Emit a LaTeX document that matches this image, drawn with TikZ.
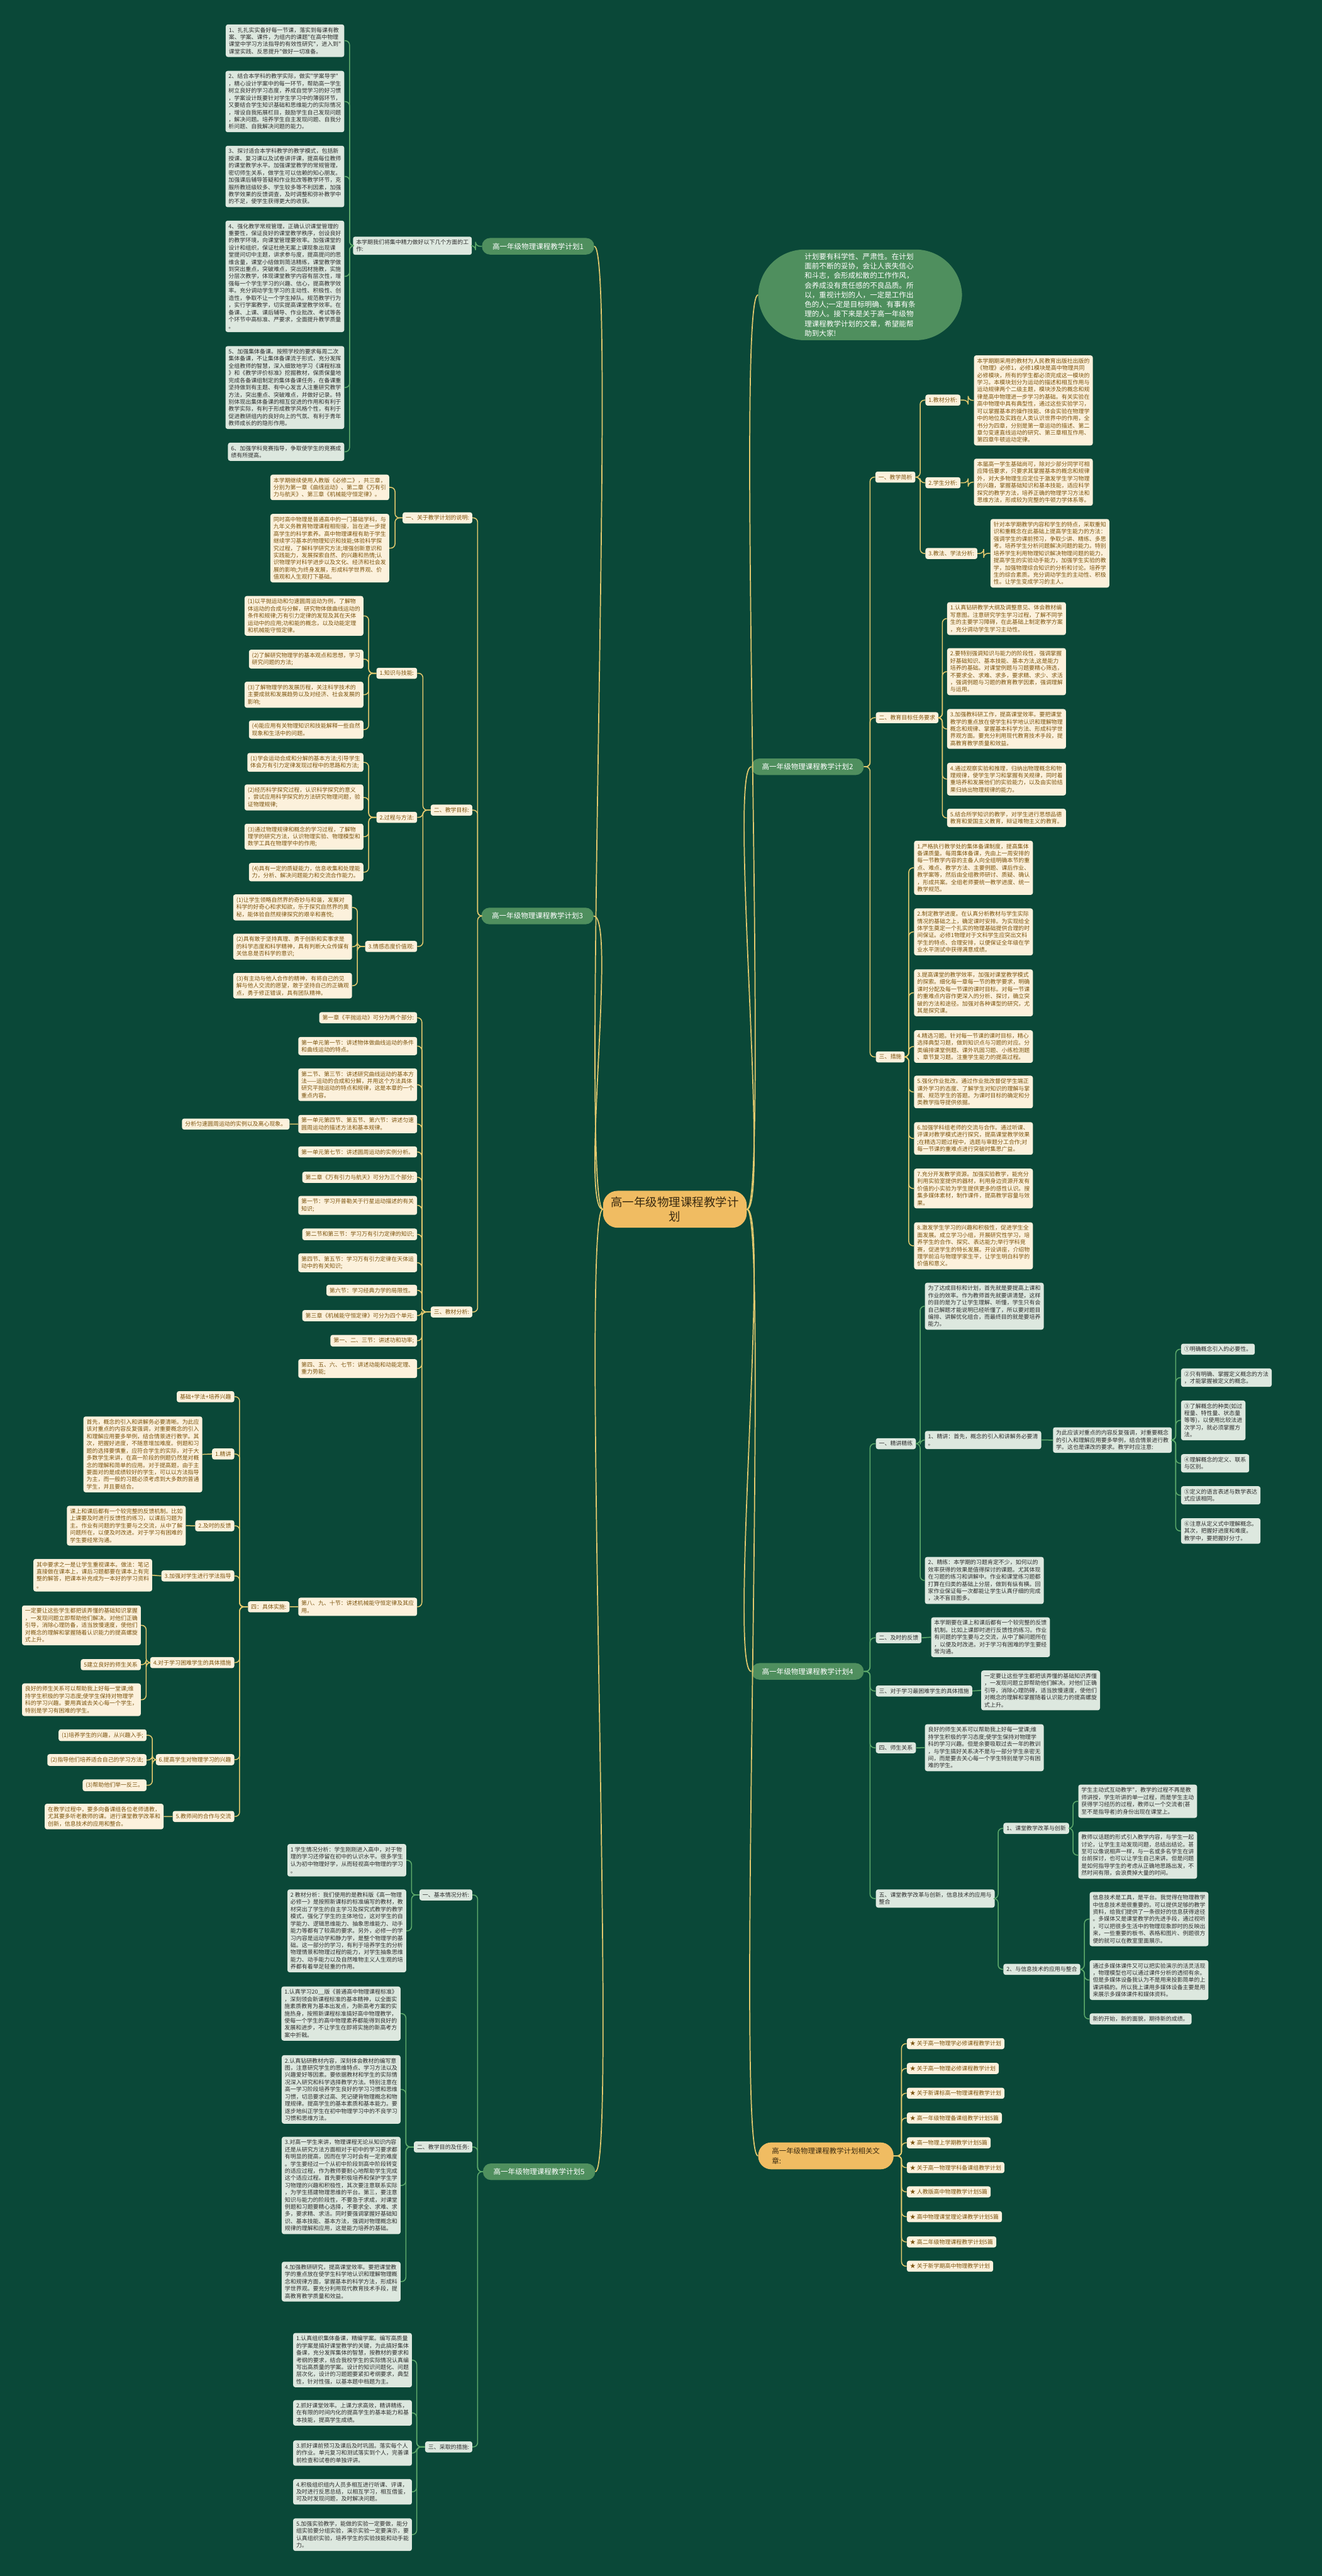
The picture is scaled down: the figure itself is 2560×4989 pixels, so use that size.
\documentclass[tikz,border=0pt]{standalone}
\usepackage{fontspec}
\usetikzlibrary{calc}
\newfontfamily\cjk{Noto Sans CJK SC}
\definecolor{colBg}{HTML}{0A4838}
\definecolor{colPill}{HTML}{4F8F5E}
\definecolor{colOr}{HTML}{F0BC62}
\definecolor{colOrTxt}{HTML}{3A2A10}
\definecolor{colBoxG}{HTML}{DDE8DF}
\definecolor{colTxtG}{HTML}{2E2E2E}
\definecolor{colBoxC}{HTML}{FCF1DC}
\definecolor{colTxtC}{HTML}{7D550F}
\definecolor{colLnG}{HTML}{5DAA6B}
\definecolor{colLnY}{HTML}{E3C96E}
\tikzset{
 gbox/.style={fill=colBoxG,text=colTxtG,rounded corners=3pt,inner xsep=4.3pt,inner ysep=4pt,align=left,font=\cjk\fontsize{7.75}{9.89}\selectfont},
 cbox/.style={gbox,fill=colBoxC,text=colTxtC},
 pillbox/.style={fill=colPill,text=white,rounded corners=11pt,inner xsep=14.5pt,inner ysep=0pt,minimum height=22.8pt,font=\cjk\fontsize{10}{13}\selectfont},
 lnG/.style={draw=colLnG,line width=1.3pt,rounded corners=6pt},
 lnY/.style={draw=colLnY,line width=1.3pt,rounded corners=6pt},
 lnTop/.style={draw=colLnY,line width=1.5pt},
}
\newcommand\lk[4][lnG]{\draw[#1] (#2.west) -- (#3 |- #2.west) |- (#4.east);}
\newcommand\rk[4][lnG]{\draw[#1] (#2.east) -- (#3 |- #2.east) |- (#4.west);}
\begin{document}
\begin{tikzpicture}[x=0.025cm,y=-0.025cm]
\fill[colBg] (0,0) rectangle (2560,4989);
\useasboundingbox (0,0) rectangle (2560,4989);

% ---------- centre ----------
\node[fill=colOr,text=colOrTxt,rounded corners=20pt,inner xsep=11pt,inner ysep=8pt,align=center,font=\cjk\fontsize{16}{20}\selectfont] (C) at (1307,2342) {高一年级物理课程教学计\\划};

% ---------- intro ----------
\node[fill=colPill,text=white,rounded corners=64pt,inner xsep=64pt,inner ysep=5pt,align=left,anchor=north west,font=\cjk\fontsize{10}{13.2}\selectfont] (intro) at (1468,483) {计划要有科学性、严肃性。在计划\\面前不断的妥协，会让人丧失信心\\和斗志，会形成松散的工作作风，\\会养成没有责任感的不良品质。所\\以，重视计划的人，一定是工作出\\色的人;一定是目标明确、有事有条\\理的人。接下来是关于高一年级物\\理课程教学计划的文章，希望能帮\\助到大家!};

% ================= Branch 1 =================
\node[pillbox,anchor=east] (B1) at (1151,477) {高一年级物理课程教学计划1};
\node[gbox,anchor=north east] (L1) at (914,458) {本学期我们将集中精力做好以下几个方面的工\\作:};
\coordinate (tB1) at (921,0);
\coordinate (tL1) at (677,0);
\node[gbox,anchor=north east] (b11) at (667,47) {1、扎扎实实备好每一节课，落实到每课有教\\案、学案、课件，为组内的课题"在高中物理\\课堂中学习方法指导的有效性研究"，进入到"\\课堂实践、反思提升"做好一切准备。};
\node[gbox,anchor=north east] (b12) at (667,137) {2、结合本学科的教学实际，做实"学案导学"\\，精心设计学案中的每一环节，帮助高一学生\\树立良好的学习态度，养成自觉学习的好习惯\\，学案设计既要针对学生学习中的薄弱环节，\\又要结合学生知识基础和思维能力的实际情况\\，增设自我拓展栏目，鼓励学生自己发现问题\\，解决问题。培养学生自主发现问题、自我分\\析问题、自我解决问题的能力。};
\node[gbox,anchor=north east] (b13) at (667,282) {3、探讨适合本学科教学的教学模式，包括新\\授课、复习课以及试卷讲评课，提高每位教师\\的课堂教学水平。加强课堂教学的常规管理，\\密切师生关系，做学生可以信赖的知心朋友。\\加强课后辅导答疑和作业批改等教学环节，克\\服所教班级较多、学生较多等不利因素，加强\\教学效果的反馈调查，及时调整和弥补教学中\\的不足，使学生获得更大的收获。};
\node[gbox,anchor=north east] (b14) at (667,427) {4、强化教学常规管理，正确认识课堂管理的\\重要性，保证良好的课堂教学秩序，创设良好\\的教学环境，向课堂管理要效率。加强课堂的\\设计和组织，保证杜绝无案上课现象出现课\\堂提问切中主题，讲求参与度，提高提问的思\\维含量，课堂小结做到简洁精练，课堂教学做\\到突出重点，突破难点，突出因材施教，实施\\分层次教学，体现课堂教学内容有层次性，增\\强每一个学生学习的兴趣、信心，提高教学效\\率。充分调动学生学习的主动性、积极性、创\\造性，争取不让一个学生掉队。规范教学行为\\，实行学案教学，切实提高课堂教学效率。在\\备课、上课、课后辅导、作业批改、考试等各\\个环节中高标准、严要求，全面提升教学质量\\。};
\node[gbox,anchor=north east] (b15) at (667,670) {5、加强集体备课。按照学校的要求每周二次\\集体备课，不让集体备课流于形式，充分发挥\\全组教师的智慧，深入细致地学习《课程标准\\》和《教学评价标准》挖掘教材，保质保量地\\完成各备课组制定的集体备课任务，在备课重\\坚持做到有主题、有中心发言人注重研究教学\\方法，突出重点、突破难点，并做好记录。特\\别体现出集体备课的相互促进的作用和有利于\\教学实际，有利于形成教学风格个性，有利于\\促进教研组内的良好向上的气氛、有利于青年\\教师成长的的隐形作用。};
\node[gbox,anchor=north east] (b16) at (667,857) {6、加强学科竞赛指导，争取使学生的竞赛成\\绩有所提高。};
\lk{B1}{tB1}{L1}
\foreach \n in {b11,b12,b13,b14,b15,b16} {\lk{L1}{tL1}{\n}}

% ================= Branch 2 =================
\node[pillbox,anchor=east] (B2) at (1673,1485) {高一年级物理课程教学计划2};
\coordinate (tB2) at (1685,0);
\node[cbox,anchor=north west] (A0) at (1695,913) {一、教学简析};
\coordinate (tA0) at (1782,0);
\node[cbox,anchor=north west] (A1) at (1792,764) {1.教材分析:};
\node[cbox,anchor=north west] (A2) at (1792,924) {2.学生分析:};
\node[cbox,anchor=north west] (A3) at (1792,1061) {3.教法、学法分析:};
\node[cbox,anchor=north west] (A1t) at (1886,688) {本学期期采用的教材为人民教育出版社出版的\\《物理》必修1，必修1模块是高中物理共同\\必修模块，所有的学生都必须完成这一模块的\\学习。本模块划分为运动的描述和相互作用与\\运动规律两个二级主题，模块涉及的概念和规\\律是高中物理进一步学习的基础。有关实验在\\高中物理中具有典型性，通过这些实验学习，\\可以掌握基本的操作技能、体会实验在物理学\\中的地位及实践在人类认识世界中的作用，全\\书分为四章，分别是第一章运动的描述、第二\\章匀变速直线运动的研究、第三章相互作用、\\第四章牛顿运动定律。};
\node[cbox,anchor=north west] (A2t) at (1886,888) {本届高一学生基础尚可，除对少部分同学可相\\应降低要求，只要求其掌握基本的概念和规律\\外，对大多物理生应定位于激发学生学习物理\\的兴趣，掌握基础知识和基本技能，适应科学\\探究的教学方法，培养正确的物理学习方法和\\思维方法，形成较为完整的牛顿力学体系等。};
\node[cbox,anchor=north west] (A3t) at (1918,1005) {针对本学期教学内容和学生的特点，采取重知\\识和重概念在此基础上提高学生能力的方法：\\强调学生的课前预习，争取少讲、精练、多思\\考。培养学生分析问题解决问题的能力。特别\\培养学生利用物理知识解决物理问题的能力，\\提高学生的实验动手能力，加强学生实验的教\\学，加强物理综合知识的分析和讨论。培养学\\生的综合素质。充分调动学生的主动性、积极\\性。让学生变成学习的主人。};
\coordinate (tA1) at (1875,0);
\coordinate (tA3) at (1905,0);
\node[cbox,anchor=north west] (G0) at (1696,1379) {二、教育目标任务要求};
\coordinate (tG0) at (1825,0);
\node[cbox,anchor=north west] (G1) at (1834,1166) {1.认真钻研教学大纲及调整意见、体会教材编\\写意图。注意研究学生学习过程，了解不同学\\生的主要学习障碍，在此基础上制定教学方案\\，充分调动学生学习主动性。};
\node[cbox,anchor=north west] (G2) at (1834,1255) {2.要特别强调知识与能力的阶段性，强调掌握\\好基础知识、基本技能、基本方法,这是能力\\培养的基础。对课堂例题与习题要精心筛选，\\不要求全、求难、求多，要求精、求少、求活\\，强调例题与习题的教育教学因素，强调理解\\与运用。};
\node[cbox,anchor=north west] (G3) at (1834,1373) {3.加强教科研工作，提高课堂效率。要把课堂\\教学的重点放在使学生科学地认识和理解物理\\概念和规律、掌握基本科学方法、形成科学世\\界观方面。要充分利用现代教育技术手段，提\\高教育教学质量和效益。};
\node[cbox,anchor=north west] (G4) at (1834,1477) {4.通过观察实验和推理，归纳出物理概念和物\\理规律，使学生学习和掌握有关规律，同时着\\重培养和发展他们的实验能力，以及由实验结\\果归纳出物理规律的能力。};
\node[cbox,anchor=north west] (G5) at (1834,1566) {5.结合所学知识的教学，对学生进行思想品德\\教育和爱国主义教育，辩证唯物主义的教育。};
\node[cbox,anchor=north west] (M0) at (1696,2036) {三、措施};
\coordinate (tM0) at (1760,0);
\node[cbox,anchor=north west] (M1) at (1770,1628) {1.严格执行教学处的集体备课制度，提高集体\\备课质量。每周集体备课，先由上一周安排的\\每一节教学内容的主备人向全组明确本节的重\\点、难点、教学方法、主要例题、课后作业、\\教学案等，然后由全组教师研讨、质疑、确认\\，形成共案。全组老师要统一教学进度、统一\\教学规范。};
\node[cbox,anchor=north west] (M2) at (1770,1759) {2.制定教学进度。在认真分析教材与学生实际\\情况的基础之上，确定课时安排。为实现给全\\体学生奠定一个扎实的物理基础提供合理的时\\间保证。必修1物理对于文科学生应突出文科\\学生的特点、合理安排，以便保证全年级在学\\业水平测试中获得满意成绩。};
\node[cbox,anchor=north west] (M3) at (1770,1877) {3.提高课堂的教学效率，加强对课堂教学模式\\的探索。细化每一章每一节的教学要求，明确\\课时分配及每一节课的课时目标。对每一节课\\的重难点内容作更深入的分析、探讨，确立突\\破的方法和途径。加强对各种课型的研究，尤\\其是探究课。};
\node[cbox,anchor=north west] (M4) at (1770,1995) {4.精选习题。针对每一节课的课时目标，精心\\选择典型习题，做到知识点与习题的对应。分\\类编排课堂例题、课外巩固习题、小练检测题\\、章节复习题。注重学生能力的提高过程。};
\node[cbox,anchor=north west] (M5) at (1770,2083) {5.强化作业批改。通过作业批改督促学生端正\\课外学习的态度、了解学生对知识的理解与掌\\握、规范学生的答题。为课时目标的确定和分\\类教学指导提供依据。};
\node[cbox,anchor=north west] (M6) at (1770,2173) {6.加强学科组老师的交流与合作。通过听课、\\评课对教学模式进行探究，提高课堂教学效果\\;在精选习题过程中，选题与审题分工合作;对\\每一节课的重难点进行突破时集思广益。};
\node[cbox,anchor=north west] (M7) at (1770,2263) {7.充分开发教学资源。加强实验教学，能充分\\利用实验室提供的器材，利用身边资源开发有\\价值的小实验为学生提供更多的感性认识。搜\\集多媒体素材，制作课件，提高教学容量与效\\果。};
\node[cbox,anchor=north west] (M8) at (1770,2367) {8.激发学生学习的兴趣和积极性，促进学生全\\面发展。成立学习小组，开展研究性学习，培\\养学生的合作、探究、表达能力;举行学科竞\\赛，促进学生的特长发展。开设讲座，介绍物\\理学前沿与物理学家生平，让学生明白科学的\\价值和意义。};
\foreach \n in {A0,G0,M0} {\rk[lnY]{B2}{tB2}{\n}}
\foreach \n in {A1,A2,A3} {\rk[lnY]{A0}{tA0}{\n}}
\rk[lnY]{A1}{tA1}{A1t}
\rk[lnY]{A2}{tA1}{A2t}
\rk[lnY]{A3}{tA3}{A3t}
\foreach \n in {G1,G2,G3,G4,G5} {\rk[lnY]{G0}{tG0}{\n}}
\foreach \n in {M1,M2,M3,M4,M5,M6,M7,M8} {\rk[lnY]{M0}{tM0}{\n}}

% ================= Branch 3 =================
\node[pillbox,anchor=west] (B3) at (932,1774) {高一年级物理课程教学计划3};
\coordinate (tB3) at (925,0);
\node[cbox,anchor=north east] (S1) at (915,992) {一、关于教学计划的说明:};
\node[cbox,anchor=north east] (S2) at (915,1558) {二、教学目标:};
\node[cbox,anchor=north east] (S3) at (915,2530) {三、教材分析:};
\coordinate (tS1) at (765,0);
\node[cbox,anchor=north east] (S1a) at (754,919) {本学期继续使用人教版《必修二》，共三章，\\分别为第一章《曲线运动》、第二章《万有引\\力与航天》、第三章《机械能守恒定律》。};
\node[cbox,anchor=north east] (S1b) at (754,995) {同时高中物理是普通高中的一门基础学科，与\\九年义务教育物理课程相衔接，旨在进一步提\\高学生的科学素养。高中物理课程有助于学生\\继续学习基本的物理知识和技能;体验科学探\\究过程，了解科学研究方法;增强创新意识和\\实践能力，发展探索自然、的兴趣和热情;认\\识物理学对科学进步以及文化、经济和社会发\\展的影响;为终身发展，形成科学世界观、价\\值观和人生观打下基础。};
\coordinate (tS2) at (819,0);
\node[cbox,anchor=north east] (K0) at (808,1293) {1.知识与技能:};
\node[cbox,anchor=north east] (P0) at (808,1572) {2.过程与方法:};
\node[cbox,anchor=north east] (E0) at (808,1822) {3.情感态度价值观:};
\coordinate (tK0) at (714,0);
\coordinate (tE0) at (692,0);
\node[cbox,anchor=north east] (K1) at (704,1154) {(1)以平抛运动和匀速圆周运动为例，了解物\\体运动的合成与分解，研究物体做曲线运动的\\条件和规律;万有引力定律的发现及其在天体\\运动中的应用;功和能的概念，以及动能定理\\和机械能守恒定律。};
\node[cbox,anchor=north east] (K2) at (704,1258) {(2)了解研究物理学的基本观点和思想，学习\\研究问题的方法;};
\node[cbox,anchor=north east] (K3) at (704,1320) {(3)了解物理学的发展历程，关注科学技术的\\主要成就和发展趋势以及对经济、社会发展的\\影响;};
\node[cbox,anchor=north east] (K4) at (704,1395) {(4)能应用有关物理知识和技能解释一些自然\\现象和生活中的问题。};
\node[cbox,anchor=north east] (P1) at (704,1458) {(1)学会运动合成和分解的基本方法;引导学生\\体会万有引力定律发现过程中的思路和方法;};
\node[cbox,anchor=north east] (P2) at (704,1519) {(2)经历科学探究过程，认识科学探究的意义\\，尝试应用科学探究的方法研究物理问题，验\\证物理规律;};
\node[cbox,anchor=north east] (P3) at (704,1595) {(3)通过物理规律和概念的学习过程，了解物\\理学的研究方法，认识物理实验、物理模型和\\数学工具在物理学中的作用;};
\node[cbox,anchor=north east] (P4) at (704,1671) {(4)具有一定的质疑能力，信息收集和处理能\\力，分析、解决问题能力和交流合作能力。};
\node[cbox,anchor=north east] (E1) at (682,1732) {(1)让学生领略自然界的奇妙与和谐，发展对\\科学的好奇心和求知欲，乐于探究自然界的奥\\秘，能体验自然规律探究的艰辛和喜悦;};
\node[cbox,anchor=north east] (E2) at (682,1808) {(2)具有敢于坚持真理、勇于创新和实事求是\\的科学态度和科学精神，具有判断大众传媒有\\关信息是否科学的意识;};
\node[cbox,anchor=north east] (E3) at (682,1884) {(3)有主动与他人合作的精神，有将自己的见\\解与他人交流的愿望，敢于坚持自己的正确观\\点，勇于修正错误，具有团队精神。};
\coordinate (tS3) at (817,0);
\node[cbox,anchor=north east] (s1) at (808,1960) {第一章《平抛运动》可分为两个部分:};
\node[cbox,anchor=north east] (s2) at (808,2008) {第一单元第一节：讲述物体做曲线运动的条件\\和曲线运动的特点。};
\node[cbox,anchor=north east] (s3) at (808,2069) {第二节、第三节：讲述研究曲线运动的基本方\\法——运动的合成和分解，并用这个方法具体\\研究平抛运动的特点和规律，这是本章的一个\\重点内容。};
\node[cbox,anchor=north east] (s4) at (808,2159) {第一单元第四节、第五节、第六节：讲述匀速\\圆周运动的描述方法和基本规律。};
\node[cbox,anchor=north east] (s4a) at (561,2166) {分析匀速圆周运动的实例以及离心现象。};
\node[cbox,anchor=north east] (s5) at (808,2220) {第一单元第七节：讲述圆周运动的实例分析。};
\node[cbox,anchor=north east] (s6) at (808,2269) {第二章《万有引力与航天》可分为三个部分:};
\node[cbox,anchor=north east] (s7) at (808,2316) {第一节：学习开普勒关于行星运动描述的有关\\知识;};
\node[cbox,anchor=north east] (s8) at (808,2379) {第二节和第三节：学习万有引力定律的知识;};
\node[cbox,anchor=north east] (s9) at (808,2427) {第四节、第五节：学习万有引力定律在天体运\\动中的有关知识;};
\node[cbox,anchor=north east] (s10) at (808,2488) {第六节：学习经典力学的局限性。};
\node[cbox,anchor=north east] (s11) at (808,2537) {第三章《机械能守恒定律》可分为四个单元:};
\node[cbox,anchor=north east] (s12) at (808,2585) {第一、二、三节：讲述功和功率;};
\node[cbox,anchor=north east] (s13) at (808,2632) {第四、五、六、七节：讲述动能和动能定理、\\重力势能;};
\node[cbox,anchor=north east] (s14) at (808,3094) {第八、九、十节：讲述机械能守恒定律及其应\\用。};
\node[cbox,anchor=north east] (F0) at (561,3101) {四：具体实施:};
\coordinate (tF0) at (464,0);
\node[cbox,anchor=north east] (F1) at (454,2694) {基础+学法+培养兴趣};
\node[cbox,anchor=north east] (F2) at (454,2805) {1.精讲};
\node[cbox,anchor=north east] (F3) at (454,2944) {2.及时的反馈};
\node[cbox,anchor=north east] (F4) at (454,3041) {3.加强对学生进行学法指导};
\node[cbox,anchor=north east] (F5) at (454,3209) {4.对于学习困难学生的具体措施};
\node[cbox,anchor=north east] (F6) at (454,3397) {6.提高学生对物理学习的兴趣};
\node[cbox,anchor=north east] (F7) at (454,3507) {5.教师间的合作与交流};
\node[cbox,anchor=north east] (F2t) at (392,2743) {首先，概念的引入和讲解务必要清晰。为此应\\该对重点的内容反复强调，对重要概念的引入\\和理解应用要多举例，结合情景进行教学。其\\次，把握好进度，不随意增加难度。例题和习\\题的选择要慎重，应符合学生的实际，对于大\\多数学生来讲，在高一阶段的例题仍然是对概\\念的理解和简单的应用。对于提高题，由于主\\要面对的是成绩较好的学生，可以以方法指导\\为主，而一般的习题必须考虑到大多数的普通\\学生，并且要结合。};
\node[cbox,anchor=north east] (F3t) at (360,2916) {课上和课后都有一个较完整的反馈机制。比如\\上课要及时进行反馈性的练习，以课后习题为\\主。作业有问题的学生要与之交流，从中了解\\问题所在，以便及时改进。对于学习有困难的\\学生要经常沟通。};
\node[cbox,anchor=north east] (F4t) at (295,3019) {其中要求之一是让学生重视课本。做法：笔记\\直接做在课本上，课后习题都要在课本上有完\\整的解答，把课本补充成为一本好的学习资料\\。};
\coordinate (tF5) at (283,0);
\node[cbox,anchor=north east] (F5a) at (273,3109) {一定要让这些学生都把该弄懂的基础知识掌握\\，一发现问题立即帮助他们解决。对他们正确\\引导，消除心理防备，适当放慢速度，使他们\\对概念的理解和掌握随着认识能力的提高螺旋\\式上升。};
\node[cbox,anchor=north east] (F5b) at (273,3213) {5建立良好的师生关系};
\node[cbox,anchor=north east] (F5c) at (273,3260) {良好的师生关系可以帮助我上好每一堂课;维\\持学生积极的学习态度;使学生保持对物理学\\科的学习兴趣。要用真诚去关心每一个学生，\\特别是学习有困难的学生。};
\coordinate (tF6) at (295,0);
\node[cbox,anchor=north east] (F6a) at (284,3349) {(1)培养学生的兴趣，从兴趣入手;};
\node[cbox,anchor=north east] (F6b) at (284,3397) {(2)指导他们培养适合自己的学习方法;};
\node[cbox,anchor=north east] (F6c) at (284,3446) {(3)帮助他们举一反三。};
\node[cbox,anchor=north east] (F7t) at (317,3493) {在教学过程中，要多向备课组各位老师请教，\\尤其要多听老教师的课。进行课堂教学改革和\\创新，信息技术的应用和整合。};
\foreach \n in {S1,S2,S3} {\lk[lnY]{B3}{tB3}{\n}}
\foreach \n in {S1a,S1b} {\lk[lnY]{S1}{tS1}{\n}}
\foreach \n in {K0,P0,E0} {\lk[lnY]{S2}{tS2}{\n}}
\foreach \n in {K1,K2,K3,K4} {\lk[lnY]{K0}{tK0}{\n}}
\foreach \n in {P1,P2,P3,P4} {\lk[lnY]{P0}{tK0}{\n}}
\foreach \n in {E1,E2,E3} {\lk[lnY]{E0}{tE0}{\n}}
\foreach \n in {s1,s2,s3,s4,s5,s6,s7,s8,s9,s10,s11,s12,s13,s14} {\lk[lnY]{S3}{tS3}{\n}}
\draw[lnY] (s4.west) -- (s4a.east);
\draw[lnY] (s14.west) -- (F0.east);
\foreach \n in {F1,F2,F3,F4,F5,F6,F7} {\lk[lnY]{F0}{tF0}{\n}}
\draw[lnY] (F2.west) -- (F2t.east);
\draw[lnY] (F3.west) -- (F3t.east);
\draw[lnY] (F4.west) -- (F4t.east);
\draw[lnY] (F7.west) -- (F7t.east);
\foreach \n in {F5a,F5b,F5c} {\lk[lnY]{F5}{tF5}{\n}}
\foreach \n in {F6a,F6b,F6c} {\lk[lnY]{F6}{tF6}{\n}}

% ================= Branch 4 =================
\node[pillbox,anchor=east] (B4) at (1673,3237) {高一年级物理课程教学计划4};
\coordinate (tB4) at (1685,0);
\node[gbox,anchor=north west] (H1) at (1696,2785) {一、精讲精练};
\node[gbox,anchor=north west] (H2) at (1696,3161) {二、及时的反馈};
\node[gbox,anchor=north west] (H3) at (1696,3264) {三、对于学习最困难学生的具体措施};
\node[gbox,anchor=north west] (H4) at (1696,3374) {四、师生关系};
\node[gbox,anchor=north west] (H5) at (1696,3659) {五、课堂教学改革与创新，信息技术的应用与\\整合};
\coordinate (tH1) at (1782,0);
\node[gbox,anchor=north west] (J0) at (1791,2484) {为了达成目标和计划，首先就是要提高上课和\\作业的效率。作为教师首先就要讲清楚，这样\\的目的是为了让学生理解、听懂，学生只有会\\自己解题才能说明已经听懂了，所以要对题目\\编排、讲解优化组合，而最终目的就是要培养\\能力。};
\node[gbox,anchor=north west] (J1) at (1791,2771) {1、精讲：首先，概念的引入和讲解务必要清\\。};
\node[gbox,anchor=north west] (J2) at (1791,3015) {2、精练：本学期的习题肯定不少，如何以的\\效率获得的效果是值得探讨的课题。尤其体现\\在习题的练习和讲解中。作业和课堂练习题都\\打算在归类的基础上分层，做到有纵有横。回\\家作业保证每一次都能让学生认真仔细的完成\\，决不盲目图多。};
\node[gbox,anchor=north west] (JJ) at (2039,2764) {为此应该对重点的内容反复强调，对重要概念\\的引入和理解应用要多举例，结合情景进行教\\学。这也是课改的要求。教学时应注意:};
\coordinate (tJJ) at (2277,0);
\node[gbox,anchor=north west] (Q1) at (2287,2602) {①明确概念引入的必要性。};
\node[gbox,anchor=north west] (Q2) at (2287,2650) {②只有明确、掌握定义概念的方法\\，才能掌握被定义的概念。};
\node[gbox,anchor=north west] (Q3) at (2287,2712) {③了解概念的种类(如过\\程量、特性量、状态量\\等等)，以使用比较法进\\次学习，就必须掌握方\\法。};
\node[gbox,anchor=north west] (Q4) at (2287,2816) {④理解概念的定义、联系\\与区别。};
\node[gbox,anchor=north west] (Q5) at (2287,2878) {⑤定义的语言表述与数学表达\\式应该相同。};
\node[gbox,anchor=north west] (Q6) at (2287,2940) {⑥注意从定义式中理解概念。\\其次，把握好进度和难度。\\教学中，要把握好分寸。};
\node[gbox,anchor=north west] (H2t) at (1803,3132) {本学期要在课上和课后都有一个较完整的反馈\\机制。比如上课即时进行反馈性的练习。作业\\有问题的学生要与之交流，从中了解问题所在\\，以便及时改进。对于学习有困难的学生要经\\常沟通。};
\node[gbox,anchor=north west] (H3t) at (1900,3235) {一定要让这些学生都把该弄懂的基础知识弄懂\\，一发现问题立即帮助他们解决。对他们正确\\引导，消除心理防碍，适当放慢速度，使他们\\对概念的理解和掌握随着认识能力的提高螺旋\\式上升。};
\node[gbox,anchor=north west] (H4t) at (1791,3339) {良好的师生关系可以帮助我上好每一堂课;维\\持学生积极的学习态度;使学生保持对物理学\\科的学习兴趣。但是余要吸取过去一年的教训\\，与学生搞好关系决不是与一部分学生亲密无\\间，而是要去关心每一个学生特别是学习有困\\难的学生。};
\coordinate (tH5) at (1933,0);
\node[gbox,anchor=north west] (V1) at (1943,3530) {1、课堂教学改革与创新};
\node[gbox,anchor=north west] (V2) at (1943,3803) {2、与信息技术的应用与整合};
\coordinate (tV1) at (2078,0);
\coordinate (tV2) at (2100,0);
\node[gbox,anchor=north west] (V1a) at (2088,3456) {学生主动式互动教学"，教学的过程不再是教\\师讲授，学生听讲的单一过程，而是学生主动\\获得学习经历的过程，教师以一个交流者(甚\\至不是指导者)的身份出现在课堂上。};
\node[gbox,anchor=north west] (V1b) at (2088,3547) {教师以话题的形式引入教学内容，与学生一起\\讨论，让学生主动发现问题，总结出结论。甚\\至可以像说相声一样，与一名或多名学生在讲\\台前探讨，也可以让学生自己来讲。但是问题\\是如何指导学生的考虑从正确地思路出发，不\\然时间有限，会浪费掉大量的时间。};
\node[gbox,anchor=north west] (V2a) at (2110,3664) {信息技术是工具，是平台。我觉得在物理教学\\中信息技术是很重要的。可以提供足够的教学\\资料，给我们提供了一条很好的信息获得途径\\。多媒体又是课堂教学的先进手段，通过视听\\，可以把很多生活中的物理现象即时的反映出\\来，一些重要的板书、表格和图片、例题很方\\便的就可以在教室里面展示。};
\node[gbox,anchor=north west] (V2b) at (2110,3796) {通过多媒体课件又可以把实验演示的活灵活现\\，物理模型也可以通过课件分析的透彻有余。\\但是多媒体设备我认为不是用来投影简单的上\\课讲稿的。所以我上课用多媒体设备主要是用\\来展示多媒体课件和媒体资料。};
\node[gbox,anchor=north west] (V2c) at (2110,3899) {新的开始，新的面貌，期待新的成绩。};
\foreach \n in {H1,H2,H3,H4,H5} {\rk{B4}{tB4}{\n}}
\foreach \n in {J0,J1,J2} {\rk{H1}{tH1}{\n}}
\draw[lnG] (J1.east) -- (JJ.west);
\foreach \n in {Q1,Q2,Q3,Q4,Q5,Q6} {\rk{JJ}{tJJ}{\n}}
\draw[lnG] (H2.east) -- (H2t.west);
\draw[lnG] (H3.east) -- (H3t.west);
\draw[lnG] (H4.east) -- (H4t.west);
\foreach \n in {V1,V2} {\rk{H5}{tH5}{\n}}
\foreach \n in {V1a,V1b} {\rk{V1}{tV1}{\n}}
\foreach \n in {V2a,V2b,V2c} {\rk{V2}{tV2}{\n}}

% ================= Branch 5 =================
\node[pillbox,anchor=west] (B5) at (935,4206) {高一年级物理课程教学计划5};
\coordinate (tB5) at (925,0);
\node[gbox,anchor=north east] (R1) at (915,3659) {一、基本情况分析:};
\node[gbox,anchor=north east] (R2) at (915,4147) {二、教学目的及任务:};
\node[gbox,anchor=north east] (R3) at (915,4728) {三、采取的措施:};
\coordinate (tR1) at (797,0);
\coordinate (tR2) at (786,0);
\coordinate (tR3) at (807,0);
\node[gbox,anchor=north east] (R1a) at (787,3571) {1 学生情况分析：学生刚刚进入高中，对于物\\理的学习还停留在初中的认识水平。很多学生\\认为初中物理好学，从而轻视高中物理的学习\\。};
\node[gbox,anchor=north east] (R1b) at (787,3659) {2 教材分析：我们使用的是教科版《高一物理\\必修一》是按照新课标的标准编写的教材，教\\材突出了学生的自主学习及探究式教学的教学\\模式，强化了学生的主体地位，这对学生的自\\学能力、逻辑思维能力、抽象思维能力、动手\\能力等都有了较高的要求。另外，必修一的学\\习内容是运动学和静力学，是整个物理学的基\\础。这一部分的学习，有利于培养学生的分析\\物理情景和物理过程的能力，对学生抽象思维\\能力、动手能力以及自然唯物主义人生观的培\\养都有着举足轻重的作用。};
\node[gbox,anchor=north east] (R2a) at (776,3847) {1.认真学习20\_\_版《普通高中物理课程标准》\\，深刻领会新课程标准的基本精神，以全面实\\施素质教育为基本出发点，为新高考方案的实\\施热身，按照新课程标准搞好高中物理教学，\\使每一个学生的高中物理素养都能得到良好的\\发展和进步，不让学生在即将实施的新高考方\\案中折戟。};
\node[gbox,anchor=north east] (R2b) at (776,3980) {2.认真钻研教材内容，深刻体会教材的编写意\\图，注意研究学生的思维特点、学习方法以及\\兴趣爱好等因素。要依据教材和学生的实际情\\况深入研究和科学选择教学方法。特别注意在\\高一学习阶段培养学生良好的学习习惯和思维\\习惯，切忌要求过高、死记硬背物理概念和物\\理规律。提高学生的基本素质和基本能力。要\\逐步地纠正学生在初中物理学习中的不良学习\\习惯和思维方法。};
\node[gbox,anchor=north east] (R2c) at (776,4138) {3.对高一学生来讲，物理课程无论从知识内容\\还是从研究方法方面相对于初中的学习要求都\\有明显的提高，因而在学习时会有一定的难度\\。学生要经过一个从初中阶段到高中阶段转变\\的适应过程，作为教师要耐心地帮助学生完成\\这个适应过程。首先要积极培养和保护学生学\\习物理的兴趣和积极性，其次要注意联系实际\\，为学生搭建物理思维的平台。第三，要注意\\知识与能力的阶段性，不要急于求成，对课堂\\例题和习题要精心选择，不要求全、求难、求\\多，要求精、求活。同时要强调掌握好基础知\\识、基本技能、基本方法，强调对物理概念和\\规律的理解和应用，这是能力培养的基础。};
\node[gbox,anchor=north east] (R2d) at (776,4380) {4.加强教研研究，提高课堂效率。要把课堂教\\学的重点放在使学生科学地认识和理解物理概\\念和规律方面，掌握基本的科学方法，形成科\\学世界观。要充分利用现代教育技术手段，提\\高教育教学质量和效益。};
\node[gbox,anchor=north east] (R3a) at (798,4518) {1.认真组织集体备课，精编学案。编写高质量\\的学案是搞好课堂教学的关键，为此搞好集体\\备课，充分发挥集体的智慧，按教材的要求和\\考纲的要求，结合我校学生的实际情况认真编\\写出高质量的学案。设计的知识问题化、问题\\层次化，设计的习题题要紧扣考纲要求，典型\\性，针对性强，以基本题中档题为主。};
\node[gbox,anchor=north east] (R3b) at (798,4648) {2.抓好课堂效率。上课力求高效，精讲精练，\\在有限的时间内化的提高学生的基本能力和基\\本技能，提高学生成绩。};
\node[gbox,anchor=north east] (R3c) at (798,4726) {3.抓好课前预习及课后及时巩固。落实每个人\\的作业。单元复习和测试落实到个人，完善课\\前检查和试卷的单独评讲。};
\node[gbox,anchor=north east] (R3d) at (798,4801) {4.积极组织组内人员多相互进行听课、评课，\\及时进行反思总结，以相互学习，相互借鉴，\\可及时发现问题，及时解决问题。};
\node[gbox,anchor=north east] (R3e) at (798,4877) {5.加强实验教学，能做的实验一定要做，能分\\组实验要分组实验，演示实验一定要演示，要\\认真组织实验，培养学生的实验技能和动手能\\力。};
\foreach \n in {R1,R2,R3} {\lk{B5}{tB5}{\n}}
\foreach \n in {R1a,R1b} {\lk{R1}{tR1}{\n}}
\foreach \n in {R2a,R2b,R2c,R2d} {\lk{R2}{tR2}{\n}}
\foreach \n in {R3a,R3b,R3c,R3d,R3e} {\lk{R3}{tR3}{\n}}

% ================= Branch 6 =================
\node[fill=colOr,text=colOrTxt,rounded corners=18pt,inner xsep=19pt,inner ysep=6pt,minimum height=37pt,align=left,anchor=north west,font=\cjk\fontsize{9.9}{13.5}\selectfont] (B6) at (1468,4149) {高一年级物理课程教学计划相关文\\章:};
\coordinate (tB6) at (1746,0);
\node[cbox,anchor=north west] (W1) at (1756,3947) {★ 关于高一物理学必修课程教学计划};
\node[cbox,anchor=north west] (W2) at (1756,3995) {★ 关于高一物理必修课程教学计划};
\node[cbox,anchor=north west] (W3) at (1756,4043) {★ 关于新课标高一物理课程教学计划};
\node[cbox,anchor=north west] (W4) at (1756,4091) {★ 高一年级物理备课组教学计划5篇};
\node[cbox,anchor=north west] (W5) at (1756,4139) {★ 高一物理上学期教学计划5篇};
\node[cbox,anchor=north west] (W6) at (1756,4187) {★ 关于高一物理学科备课组教学计划};
\node[cbox,anchor=north west] (W7) at (1756,4234) {★ 人教版高中物理教学计划5篇};
\node[cbox,anchor=north west] (W8) at (1756,4282) {★ 高中物理课堂理论课教学计划5篇};
\node[cbox,anchor=north west] (W9) at (1756,4331) {★ 高二年级物理课程教学计划5篇};
\node[cbox,anchor=north west] (W10) at (1756,4378) {★ 关于新学期高中物理教学计划};
\foreach \n in {W1,W2,W3,W4,W5,W6,W7,W8,W9,W10} {\rk[lnY]{B6}{tB6}{\n}}

% ---------- top level ----------
\foreach \n in {B1,B3,B5} {\draw[lnTop] (C.west) .. controls ($(C.west)+(-45,0)$) and ($(\n.east)+(45,0)$) .. (\n.east);}
\foreach \n in {intro,B2,B4,B6} {\draw[lnTop] (C.east) .. controls ($(C.east)+(45,0)$) and ($(\n.west)+(-45,0)$) .. (\n.west);}
\end{tikzpicture}
\end{document}
